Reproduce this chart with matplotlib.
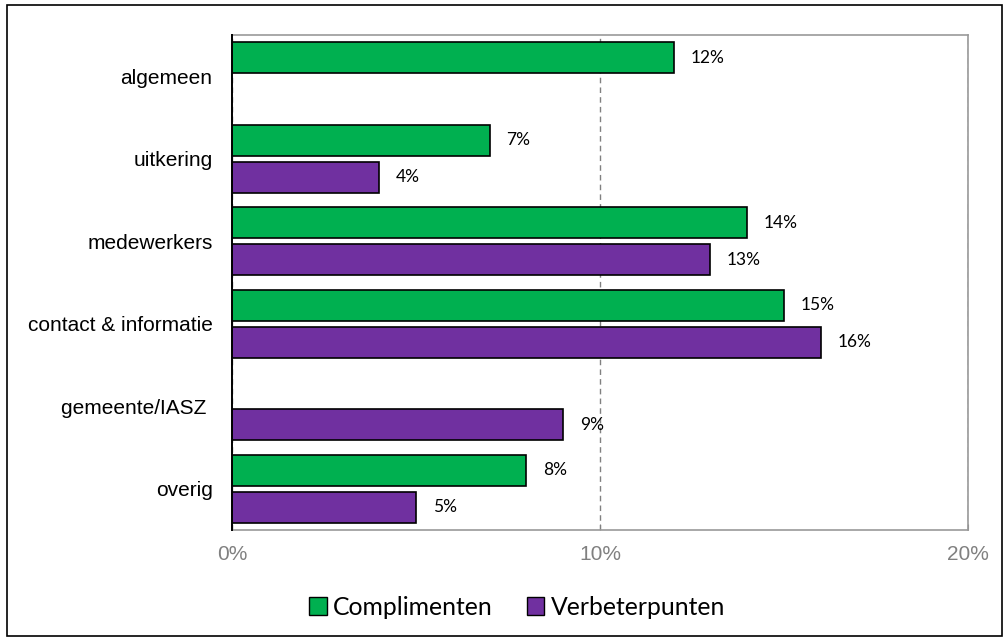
import numpy as np
import matplotlib.pyplot as plt
from matplotlib.patches import Rectangle

categories = ["algemeen", "uitkering", "medewerkers", "contact & informatie",
              "gemeente/IASZ ", "overig"]
complimenten = [12, 7, 14, 15, 0, 8]
verbeterpunten = [0, 4, 13, 16, 9, 5]
xticks = [0, 10, 20]
xtick_labels = ["0%", "10%", "20%"]

green = "#00B050"
purple = "#7030A0"

fig = plt.figure(figsize=(10.08, 6.41), dpi=100)
ax = fig.add_axes([0.2302, 0.1732, 0.7301, 0.7722])

# outer frame around the whole chart
fig.patches.append(Rectangle((0.007, 0.008), 0.987, 0.984, transform=fig.transFigure,
                             fill=False, edgecolor="black", linewidth=1.2))

y = np.arange(len(categories))
h = 0.375
off = 0.224

for i, v in enumerate(complimenten):
    if v > 0:
        ax.barh(y[i] - off, v, height=h, color=green, edgecolor="black", linewidth=1.2, zorder=3)
        ax.annotate(f"{v}%", (v, y[i] - off), xytext=(12, 0), textcoords="offset points",
                    va="center", ha="left", fontsize=12.5, family="Lato")
for i, v in enumerate(verbeterpunten):
    if v > 0:
        ax.barh(y[i] + off, v, height=h, color=purple, edgecolor="black", linewidth=1.2, zorder=3)
        ax.annotate(f"{v}%", (v, y[i] + off), xytext=(12, 0), textcoords="offset points",
                    va="center", ha="left", fontsize=12.5, family="Lato")

ax.set_xlim(0, 20)
ax.set_ylim(len(categories) - 0.5, -0.5)
ax.set_xticks(xticks)
ax.set_xticklabels(xtick_labels, color="#808080", fontsize=15, family="Liberation Sans")
ax.set_yticks(y)
ax.set_yticklabels(categories, fontsize=15, family="Liberation Sans")
ax.tick_params(axis="y", length=0, pad=14)
ax.tick_params(axis="x", direction="in", length=4, color="#808080", pad=11)

ax.grid(axis="x", linestyle="--", color="#808080", linewidth=1, dashes=(4, 3), zorder=0)
for s in ["top", "right", "bottom"]:
    ax.spines[s].set_color("#999999")
    ax.spines[s].set_linewidth(1.2)
ax.spines["left"].set_color("black")
ax.spines["left"].set_linewidth(1.4)
ax.spines["left"].set_zorder(4)

handles = [Rectangle((0, 0), 1, 1, facecolor=green, edgecolor="black"),
           Rectangle((0, 0), 1, 1, facecolor=purple, edgecolor="black")]
fig.legend(handles, ["Complimenten", "Verbeterpunten"], loc="center", ncol=2,
           bbox_to_anchor=(0.513, 0.053), frameon=False, handlelength=0.7, handleheight=0.7,
           handletextpad=0.25, columnspacing=1.4, borderpad=0,
           prop={"family": "Lato", "size": 17.8})

fig.savefig("out.png", dpi=100)
